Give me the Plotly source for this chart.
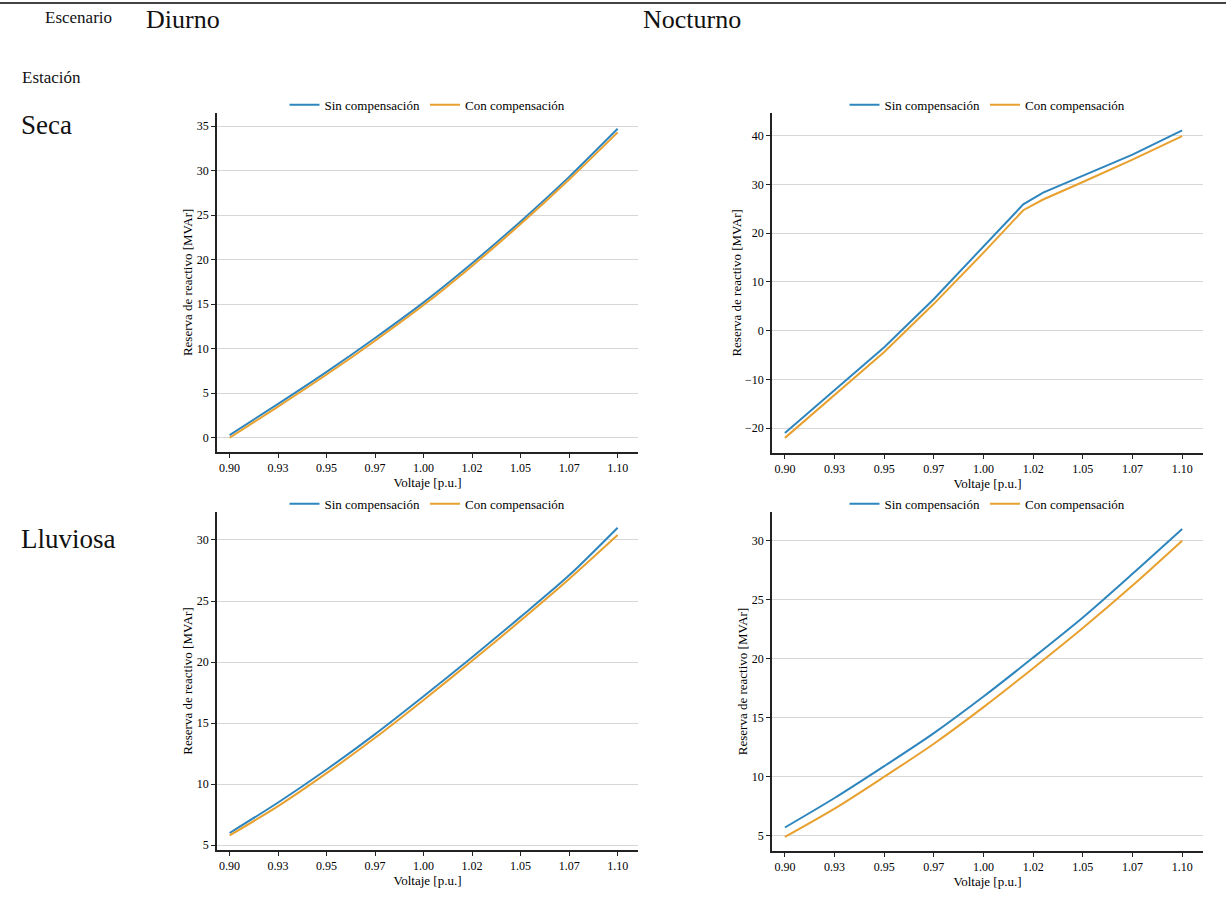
import plotly.graph_objects as go

# ---------------- data ----------------
voltaje = [0.900, 0.925, 0.950, 0.975, 1.000, 1.025, 1.050, 1.075, 1.100]
x_tickvals = [0.900, 0.925, 0.950, 0.975, 1.000, 1.025, 1.050, 1.075, 1.100]
x_ticktext = ["0.90", "0.93", "0.95", "0.97", "1.00", "1.02", "1.05", "1.07", "1.10"]

# Diurno - Seca
diurno_seca_sin = [0.3, 3.8, 7.4, 11.2, 15.2, 19.6, 24.3, 29.3, 34.7]
diurno_seca_con = [0.0, 3.5, 7.1, 10.9, 14.9, 19.3, 24.0, 29.0, 34.3]

# Nocturno - Seca (kink near 1.02)
voltaje_noct_seca = [0.900, 0.925, 0.950, 0.975, 1.000, 1.020, 1.030, 1.050, 1.075, 1.100]
nocturno_seca_sin = [-21.0, -12.3, -3.4, 6.5, 17.4, 25.9, 28.3, 31.7, 36.1, 41.1]
nocturno_seca_con = [-22.0, -13.3, -4.4, 5.5, 16.0, 24.7, 26.9, 30.5, 35.1, 39.9]

# Diurno - Lluviosa
diurno_lluv_sin = [6.0, 8.5, 11.2, 14.1, 17.2, 20.4, 23.7, 27.1, 31.0]
diurno_lluv_con = [5.8, 8.2, 10.9, 13.8, 16.9, 20.1, 23.4, 26.8, 30.4]

# Nocturno - Lluviosa
nocturno_lluv_sin = [5.7, 8.2, 10.9, 13.7, 16.8, 20.1, 23.5, 27.2, 31.0]
nocturno_lluv_con = [4.9, 7.3, 10.0, 12.8, 15.9, 19.2, 22.6, 26.2, 30.0]

series_names = ["Sin compensación", "Con compensación"]
colores = ["#2F86BE", "#E8A02E"]

col_labels = ["Diurno", "Nocturno"]
row_labels = ["Seca", "Lluviosa"]

y_ranges = [[-1.6, 36.5], [-25.1, 44.7], [4.6, 32.3], [3.7, 32.45]]
y_dtick = [5, 10, 5, 5]

# ---------------- figure ----------------
W, H = 1226, 901
FONT = "Liberation Serif"

def px_x(p):
    return p / W

def px_y(p):
    return 1 - p / H

panels = [
    # (x0, x1, ytop, ybottom) in pixels
    (217, 638, 113, 453),
    (772, 1203, 113, 454),
    (217, 638, 513, 852),
    (772, 1203, 513, 853),
]

data_sets = [
    (voltaje, diurno_seca_sin, diurno_seca_con),
    (voltaje_noct_seca, nocturno_seca_sin, nocturno_seca_con),
    (voltaje, diurno_lluv_sin, diurno_lluv_con),
    (voltaje, nocturno_lluv_sin, nocturno_lluv_con),
]

fig = go.Figure()
layout = dict(
    width=W, height=H,
    margin=dict(l=0, r=0, t=0, b=0),
    paper_bgcolor="white", plot_bgcolor="white",
    font=dict(family=FONT, color="#111111", size=12),
    annotations=[], shapes=[],
)

for i, ((x0, x1, yt, yb), (xs, s_sin, s_con)) in enumerate(zip(panels, data_sets)):
    k = "" if i == 0 else str(i + 1)
    xa, ya = "x" + k, "y" + k
    leg = "legend" + k
    shape = "linear" if i == 1 else "spline"
    for name, vals, col in zip(series_names, [s_sin, s_con], colores):
        fig.add_trace(go.Scatter(
            x=xs, y=vals, mode="lines", name=name,
            line=dict(color=col, width=2, shape=shape, smoothing=0.8),
            xaxis=xa, yaxis=ya, legend=leg,
        ))
    layout["xaxis" + k] = dict(
        domain=[px_x(x0), px_x(x1)], anchor=ya,
        range=[0.8935, 1.1105], tickvals=x_tickvals, ticktext=x_ticktext,
        showline=True, linecolor="#222222", linewidth=1.5,
        ticks="outside", ticklen=4, tickcolor="#222222",
        showgrid=False, zeroline=False,
        tickfont=dict(family=FONT, size=12, color="#000000"),
        title=dict(text="Voltaje [p.u.]", font=dict(family=FONT, size=13, color="#000000"), standoff=1),
    )
    layout["yaxis" + k] = dict(
        domain=[px_y(yb), px_y(yt)], anchor=xa,
        range=y_ranges[i], dtick=y_dtick[i],
        showline=True, linecolor="#222222", linewidth=1.5,
        ticks="outside", ticklen=4, tickcolor="#222222",
        showgrid=True, gridcolor="#D6D6D6", gridwidth=1, zeroline=False,
        tickfont=dict(family=FONT, size=12, color="#000000"),
        title=dict(text="Reserva de reactivo [MVAr]", font=dict(family=FONT, size=13, color="#000000"), standoff=1),
    )
    layout[leg] = dict(
        orientation="h", x=(px_x(x0) + px_x(x1)) / 2, xanchor="center",
        y=px_y(yt + 7), yanchor="bottom", xref="paper", yref="paper",
        bgcolor="rgba(0,0,0,0)", font=dict(family=FONT, size=13, color="#000000"),
        itemwidth=30, tracegroupgap=0,
    )

# header texts
ann = layout["annotations"]
ann.append(dict(text="Escenario", x=px_x(43), y=px_y(18), xref="paper", yref="paper",
                xanchor="left", yanchor="middle", showarrow=False, font=dict(family=FONT, size=17)))
ann.append(dict(text=col_labels[0], x=px_x(144), y=px_y(20), xref="paper", yref="paper",
                xanchor="left", yanchor="middle", showarrow=False, font=dict(family=FONT, size=26)))
ann.append(dict(text=col_labels[1], x=px_x(641), y=px_y(20), xref="paper", yref="paper",
                xanchor="left", yanchor="middle", showarrow=False, font=dict(family=FONT, size=26)))
ann.append(dict(text="Estación", x=px_x(20), y=px_y(78), xref="paper", yref="paper",
                xanchor="left", yanchor="middle", showarrow=False, font=dict(family=FONT, size=17)))
ann.append(dict(text=row_labels[0], x=px_x(19), y=px_y(125), xref="paper", yref="paper",
                xanchor="left", yanchor="middle", showarrow=False, font=dict(family=FONT, size=27)))
ann.append(dict(text=row_labels[1], x=px_x(19), y=px_y(540), xref="paper", yref="paper",
                xanchor="left", yanchor="middle", showarrow=False, font=dict(family=FONT, size=27)))

layout["shapes"].append(dict(type="line", xref="paper", yref="paper",
                             x0=0, x1=1, y0=px_y(3), y1=px_y(3),
                             line=dict(color="#444444", width=2)))

fig.update_layout(**layout)
fig.write_html("out.html", config={"displayModeBar": False},
               post_script="document.body.style.margin='0px';")
